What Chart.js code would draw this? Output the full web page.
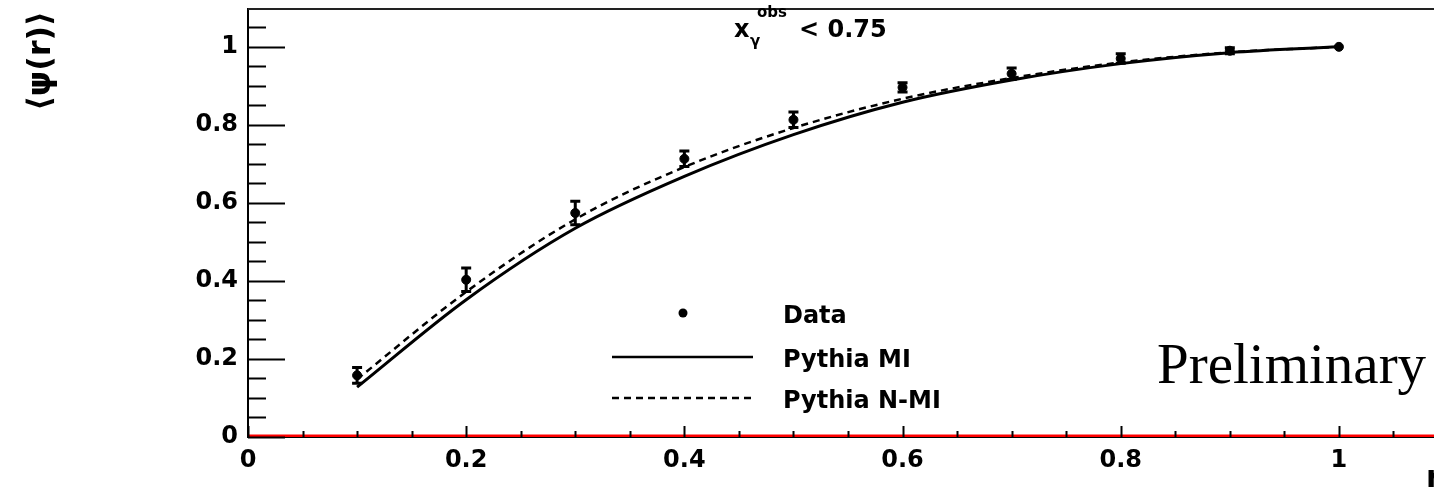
<!DOCTYPE html>
<html>
<head>
<meta charset="utf-8">
<script src="https://cdn.jsdelivr.net/npm/chart.js@4/dist/chart.umd.min.js"></script>
<style>
  html, body { margin: 0; padding: 0; background: #fff; overflow: hidden; }
  #wrap { width: 1434px; height: 491px; overflow: hidden; }
</style>
</head>
<body>
<div id="wrap"><canvas id="psi" width="1460" height="491"></canvas></div>
<script>
// values
const rValues = [0.1, 0.2, 0.3, 0.4, 0.5, 0.6, 0.7, 0.8, 0.9, 1.0];
const dataValues = [0.158, 0.403, 0.574, 0.713, 0.813, 0.896, 0.931, 0.970, 0.990, 1.0];
const dataErrors = [0.02, 0.03, 0.03, 0.02, 0.02, 0.012, 0.015, 0.012, 0.008, 0.0];
const miValues = [0.128, 0.352, 0.535, 0.668, 0.775, 0.858, 0.915, 0.957, 0.985, 1.0];
const nmiValues = [0.148, 0.372, 0.558, 0.692, 0.792, 0.867, 0.920, 0.960, 0.986, 1.0];
const baseX = [0, 1.1];
const baseY = [0, 0];

const majorValues = [0, 0.2, 0.4, 0.6, 0.8, 1];
const xTickLabels = ['0', '0.2', '0.4', '0.6', '0.8', '1'];
const yTickLabels = ['0', '0.2', '0.4', '0.6', '0.8', '1'];
const minorStep = 0.05;

const FONT = 'DejaVu Sans';

function pts(xs, ys) {
    return xs.map((x, i) => ({x: x, y: ys[i]}));
}

function buildTicks(scale) {
    let t = [];
    for (let i = 0; i * minorStep <= scale.max + 1e-9; i++) {
        t.push({value: +(i * minorStep).toFixed(4)});
    }
    scale.ticks = t;
}

function labelFor(labels) {
    return function(value) {
        const i = majorValues.findIndex(v => Math.abs(v - value) < 1e-6);
        return i >= 0 ? labels[i] : '';
    };
}

function isMajor(v) {
    return majorValues.some(m => Math.abs(m - v) < 1e-6);
}

// inward tick marks, error bars, legend and texts
const decor = {
    id: 'decor',
    afterDatasetsDraw(chart) {
        const ctx = chart.ctx;
        const xs = chart.scales.x, ys = chart.scales.y;
        const a = chart.chartArea;

        ctx.save();
        // top frame
        ctx.strokeStyle = '#222';
        ctx.lineWidth = 2;
        ctx.beginPath();
        ctx.moveTo(a.left, a.top);
        ctx.lineTo(a.right, a.top);
        ctx.stroke();

        // ticks
        ctx.strokeStyle = '#000';
        ctx.lineWidth = 2;
        ys.ticks.forEach(t => {
            const y = Math.round(ys.getPixelForValue(t.value)) + 0.5;
            const len = isMajor(t.value) ? 37 : 18;
            ctx.beginPath();
            ctx.moveTo(a.left, y);
            ctx.lineTo(a.left + len, y);
            ctx.stroke();
        });
        xs.ticks.forEach(t => {
            const x = Math.round(xs.getPixelForValue(t.value)) + 0.5;
            const len = isMajor(t.value) ? 11 : 6;
            ctx.beginPath();
            ctx.moveTo(x, a.bottom);
            ctx.lineTo(x, a.bottom - len);
            ctx.stroke();
        });

        // error bars
        ctx.lineWidth = 3;
        rValues.forEach((r, i) => {
            if (!dataErrors[i]) return;
            const x = xs.getPixelForValue(r);
            const y1 = ys.getPixelForValue(dataValues[i] + dataErrors[i]);
            const y2 = ys.getPixelForValue(dataValues[i] - dataErrors[i]);
            ctx.beginPath();
            ctx.moveTo(x, y1); ctx.lineTo(x, y2);
            ctx.moveTo(x - 5, y1); ctx.lineTo(x + 5, y1);
            ctx.moveTo(x - 5, y2); ctx.lineTo(x + 5, y2);
            ctx.stroke();
        });

        // legend
        ctx.fillStyle = '#000';
        ctx.beginPath();
        ctx.arc(683, 313, 4.5, 0, Math.PI * 2);
        ctx.fill();
        ctx.lineWidth = 2.5;
        ctx.beginPath();
        ctx.moveTo(612, 357); ctx.lineTo(753, 357);
        ctx.stroke();
        ctx.setLineDash([7, 5]);
        ctx.beginPath();
        ctx.moveTo(612, 398); ctx.lineTo(753, 398);
        ctx.stroke();
        ctx.setLineDash([]);

        ctx.font = 'bold 24px ' + FONT;
        ctx.textAlign = 'left';
        ctx.textBaseline = 'alphabetic';
        ctx.fillText('Data', 783, 323);
        ctx.fillText('Pythia MI', 783, 367);
        ctx.fillText('Pythia N-MI', 783, 408);

        // title x_gamma^obs < 0.75
        ctx.fillText('x', 734, 37);
        ctx.font = 'bold 15px ' + FONT;
        ctx.fillText('γ', 750, 46);
        ctx.fillText('obs', 757, 17);
        ctx.font = 'bold 24px ' + FONT;
        ctx.fillText('< 0.75', 799, 37);

        // y axis title
        ctx.save();
        ctx.translate(50, 61);
        ctx.rotate(-Math.PI / 2);
        ctx.textAlign = 'center';
        ctx.font = 'bold 32px ' + FONT;
        ctx.fillText('⟨ψ(r)⟩', 0, 0);
        ctx.restore();

        // x axis title (cut by the window edge)
        ctx.font = 'bold 30px ' + FONT;
        ctx.textBaseline = 'top';
        ctx.fillText('r', 1426, 464);

        // Preliminary
        ctx.font = '57px "Liberation Serif"';
        ctx.textBaseline = 'alphabetic';
        ctx.fillText('Preliminary', 1157, 383);
        ctx.restore();
    }
};

function fixX(s) {
    s.height = 54;
    s.paddingLeft = 0; s.paddingRight = 0;
}
function fixY(s) {
    s.width = 248;
    s.paddingTop = 0; s.paddingBottom = 0;
}

const psiChart = new Chart(document.getElementById('psi').getContext('2d'), {
    type: 'line',
    data: {
        datasets: [
            {
                label: 'Data',
                data: pts(rValues, dataValues),
                showLine: false,
                pointRadius: 4.5,
                pointBackgroundColor: '#000',
                pointBorderColor: '#000',
                borderColor: '#000'
            },
            {
                label: 'Pythia MI',
                data: pts(rValues, miValues),
                borderColor: '#000',
                borderWidth: 3,
                pointRadius: 0,
                cubicInterpolationMode: 'monotone',
                fill: false
            },
            {
                label: 'Pythia N-MI',
                data: pts(rValues, nmiValues),
                borderColor: '#000',
                borderWidth: 2.5,
                borderDash: [7, 5],
                pointRadius: 0,
                cubicInterpolationMode: 'monotone',
                fill: false
            },
            {
                label: 'zero',
                data: pts(baseX, baseY),
                borderColor: '#ff0000',
                borderWidth: 5,
                pointRadius: 0
            }
        ]
    },
    options: {
        responsive: false,
        animation: false,
        events: [],
        layout: {
            padding: {left: 0, top: 9, right: 12, bottom: 0}
        },
        scales: {
            x: {
                type: 'linear',
                min: 0,
                max: 1.1,
                afterBuildTicks: buildTicks,
                afterFit: fixX,
                grid: {display: false, drawTicks: false},
                border: {display: true, color: '#000', width: 2},
                ticks: {
                    autoSkip: false,
                    maxRotation: 0,
                    padding: 9,
                    color: '#000',
                    font: {family: FONT, size: 24, weight: 'bold'},
                    callback: labelFor(xTickLabels)
                }
            },
            y: {
                type: 'linear',
                min: 0,
                max: 1.097,
                afterBuildTicks: buildTicks,
                afterFit: fixY,
                grid: {display: false, drawTicks: false},
                border: {display: true, color: '#000', width: 2},
                ticks: {
                    autoSkip: false,
                    padding: 10,
                    color: '#000',
                    font: {family: FONT, size: 24, weight: 'bold'},
                    callback: labelFor(yTickLabels)
                }
            }
        },
        plugins: {
            legend: {display: false},
            tooltip: {enabled: false}
        }
    },
    plugins: [decor]
});
</script>
</body>
</html>
